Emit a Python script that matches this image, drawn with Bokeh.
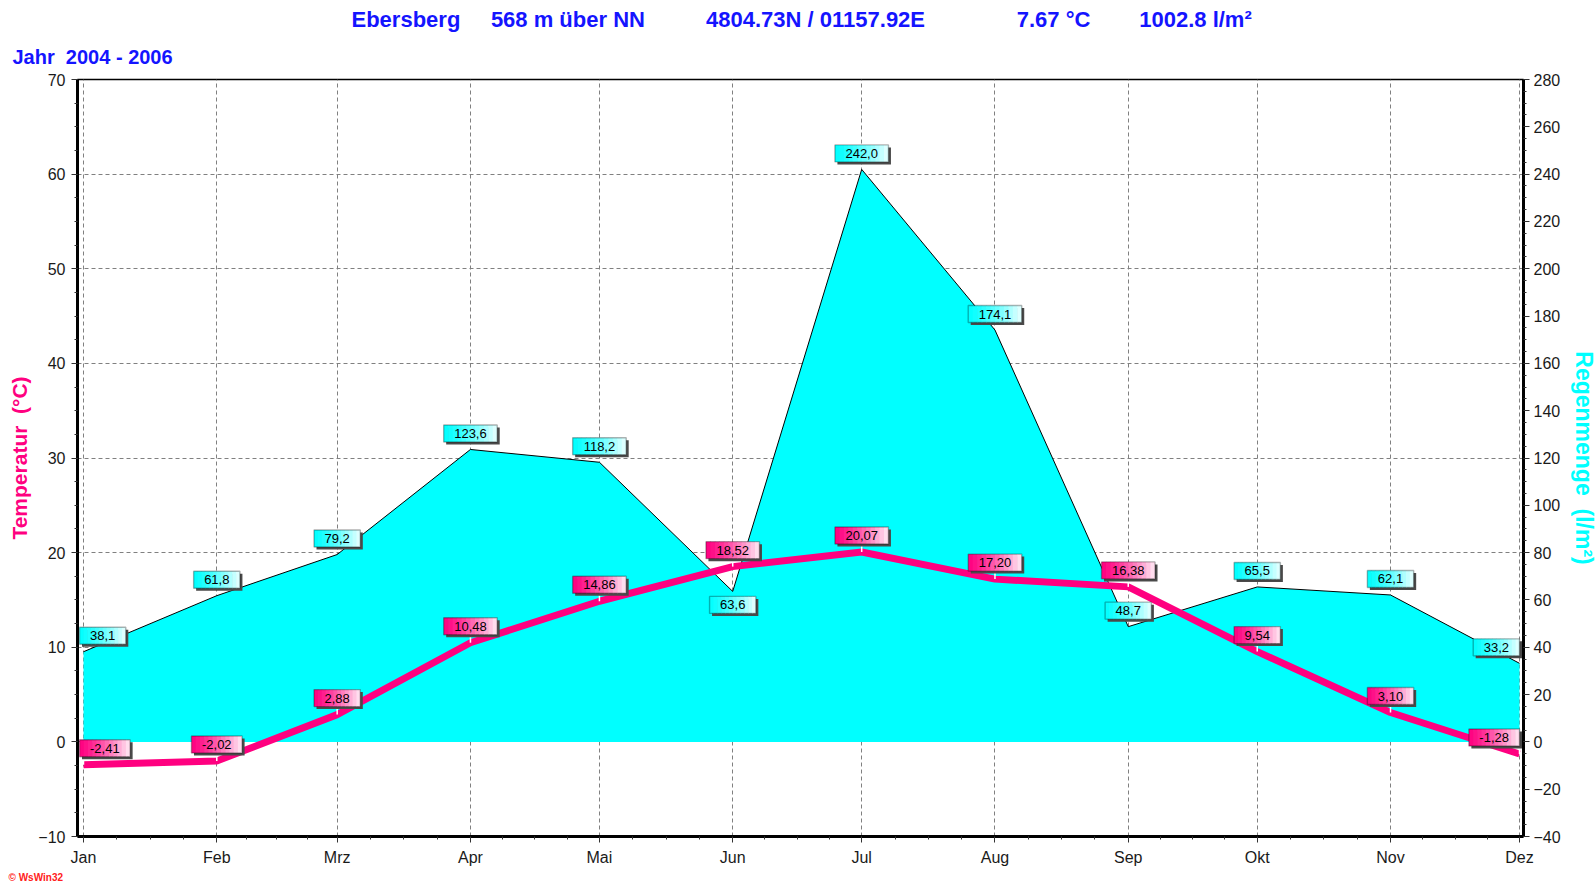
import numpy as np
from bokeh.plotting import figure
from bokeh.models import LinearAxis, Range1d, FixedTicker, Label, BoxAnnotation, Title
from bokeh.embed import file_html
from bokeh.resources import INLINE

# ---------------- data ----------------
months = ["Jan", "Feb", "Mrz", "Apr", "Mai", "Jun", "Jul", "Aug", "Sep", "Okt", "Nov", "Dez"]
month_days = [31, 28, 31, 30, 31, 30, 31, 31, 30, 31, 30, 31]
temperature = [-2.41, -2.02, 2.88, 10.48, 14.86, 18.52, 20.07, 17.20, 16.38, 9.54, 3.10, -1.28]
rain = [38.1, 61.8, 79.2, 123.6, 118.2, 63.6, 242.0, 174.1, 48.7, 65.5, 62.1, 33.2]
title_parts = ["Ebersberg", "568 m über NN", "4804.73N / 01157.92E", "7.67 °C", "1002.8 l/m²"]
title_gaps = [5, 10, 15, 8]          # number of spaces between the title parts
subtitle = "Jahr  2004 - 2006"
temp_title = "Temperatur  (°C)"
rain_title = "Regenmenge  (l/m²)"
watermark = "© WsWin32"
temp_ticks = list(range(-10, 71, 10))
rain_ticks = list(range(-40, 281, 20))

NB = "\u00a0"

def keep_spaces(s):
    return s.replace(" ", NB)

# day of year of the 1st of each month
x_pos = np.concatenate([[0], np.cumsum(month_days[:-1])]).astype(float)
minor_x = []
for i in range(len(months) - 1):
    for k in range(1, 4):
        minor_x.append(x_pos[i] + k * month_days[i] / 4.0)

# ---------------- layout ----------------
FL, FT, FW, FH = 77, 79, 1446, 757        # frame in canvas pixels
CW_TOTAL, CH_TOTAL = 1594, 887
x_start, x_end = -1.3955, 334.93
t_lo, t_hi = -10, 70
r_lo, r_hi = -40, 280
sx = FW / (x_end - x_start)
sy = FH / (t_hi - t_lo)

MAG = "#ff0080"
CYAN = "#00ffff"
BLUE = "#1414ff"
FONT = "Liberation Sans"

p = figure(frame_width=FW, frame_height=FH,
           x_range=Range1d(x_start, x_end), y_range=Range1d(t_lo, t_hi),
           output_backend="svg", toolbar_location=None,
           min_border_left=FL, min_border_top=FT,
           min_border_right=CW_TOTAL - (FL + FW), min_border_bottom=CH_TOTAL - (FT + FH))
p.extra_y_ranges = {"rain": Range1d(r_lo, r_hi)}
p.background_fill_color = "white"
p.border_fill_color = "white"
p.outline_line_color = "black"
p.outline_line_width = 1.5

# titles: main title on top, subtitle nearer to the frame
main = ""
for i, part in enumerate(title_parts):
    main += keep_spaces(part)
    if i < len(title_gaps):
        main += NB * title_gaps[i]
p.title.text = main
p.title.align = "left"
p.title.offset = 351 - FL
p.title.text_font = FONT
p.title.text_font_size = "22px"
p.title.text_font_style = "bold"
p.title.text_color = BLUE
p.title.standoff = 2

p.add_layout(Title(text=keep_spaces(subtitle), align="left", offset=12 - FL, text_font=FONT,
                   text_font_size="20px", text_font_style="bold", text_color=BLUE,
                   standoff=23), "above")

# axes
p.xaxis.ticker = FixedTicker(ticks=list(x_pos), minor_ticks=minor_x)
p.xaxis.major_label_overrides = {int(d): m for d, m in zip(x_pos, months)}
p.yaxis.ticker = FixedTicker(ticks=temp_ticks, minor_ticks=list(np.arange(-10, 70.1, 2.5)))
ra = LinearAxis(y_range_name="rain",
                ticker=FixedTicker(ticks=rain_ticks, minor_ticks=list(np.arange(-40, 281, 5))))
p.add_layout(ra, "right")

for ax in [p.xaxis[0], p.yaxis[0], ra]:
    ax.axis_line_width = 3
    ax.axis_line_color = "black"
    ax.major_tick_in = 0
    ax.minor_tick_in = 0
    ax.major_tick_out = 6
    ax.minor_tick_out = 3
    ax.major_tick_line_color = "#333333"
    ax.minor_tick_line_color = "#333333"
    ax.major_label_text_font = FONT
    ax.major_label_text_font_size = "16px"
    ax.major_label_text_color = "#1a1a1a"
p.xaxis.major_label_standoff = 6
p.yaxis.major_label_standoff = 6
ra.major_label_standoff = 4

p.yaxis.axis_label = keep_spaces(temp_title)
p.yaxis.axis_label_text_font = FONT
p.yaxis.axis_label_text_font_size = "21px"
p.yaxis.axis_label_text_font_style = "bold"
p.yaxis.axis_label_text_color = MAG
p.yaxis.axis_label_standoff = 4

ra.axis_label = keep_spaces(rain_title)
ra.axis_label_text_font = FONT
ra.axis_label_text_font_size = "23px"
ra.axis_label_text_font_style = "bold"
ra.axis_label_text_color = CYAN
ra.axis_label_standoff = 7

# watermark below the x axis
p.add_layout(Title(text=watermark, align="left", offset=8 - FL, text_font=FONT,
                   text_font_size="10px", text_font_style="bold",
                   text_color="#ff2020", standoff=3), "below")

# grid
p.xgrid.ticker = FixedTicker(ticks=list(x_pos))
p.ygrid.ticker = FixedTicker(ticks=temp_ticks)
for g in [p.xgrid[0], p.ygrid[0]]:
    g.grid_line_color = "#808080"
    g.grid_line_dash = "4 3"
    g.grid_line_width = 1

# rain area + outline
p.varea(x=x_pos, y1=0, y2=rain, fill_color=CYAN, fill_alpha=1, y_range_name="rain")
p.line(x_pos, rain, line_color="black", line_width=1, y_range_name="rain")

# temperature line
p.line(x_pos, temperature, line_color=MAG, line_width=7)

# ---------------- value labels ----------------
rain_scale = (t_hi - t_lo) / (r_hi - r_lo)
CWID = {",": 0.278, "-": 0.333, ".": 0.278}

def tw(s, fs=13):
    return sum(CWID.get(c, 0.556) for c in s) * fs

def hexrgb(h):
    h = h.lstrip("#")
    return tuple(int(h[i:i + 2], 16) for i in (0, 2, 4))

def mix(c0, c1, t):
    a, b = hexrgb(c0), hexrgb(c1)
    return "#%02x%02x%02x" % tuple(int(round(a[i] + (b[i] - a[i]) * t)) for i in range(3))

def add_box(xd, yd, off_px, s, c0, c1, leader=False):
    w = tw(s) + 21
    h = 17
    hw = w / 2 / sx
    hh = h / 2 / sy
    # keep the whole box (and its shadow) inside the plotting frame
    cx = min(max(xd, x_start + hw + 2 / sx), x_end - hw - 4 / sx)
    cy = yd - off_px / sy          # off_px: screen offset (positive = down)
    p.add_layout(BoxAnnotation(left=cx - hw + 2.5 / sx, right=cx + hw + 2.5 / sx,
                               bottom=cy - hh - 2.5 / sy, top=cy + hh - 2.5 / sy,
                               fill_color="#4a4a4a", fill_alpha=1, line_color=None,
                               level="overlay"))
    n = 12
    for i in range(n):
        l = cx - hw + i * 2 * hw / n
        r = cx - hw + (i + 1) * 2 * hw / n + 0.6 / sx
        p.add_layout(BoxAnnotation(left=l, right=min(r, cx + hw), bottom=cy - hh, top=cy + hh,
                                   fill_color=mix(c0, c1, ((i + 0.5) / n) ** 1.3), fill_alpha=1,
                                   line_color=None, level="overlay"))
    p.add_layout(BoxAnnotation(left=cx - hw, right=cx + hw, bottom=cy - hh, top=cy + hh,
                               fill_alpha=0, line_color="black", line_width=1.4,
                               level="overlay"))
    p.add_layout(Label(x=cx, y=cy, text=s, text_align="center", text_baseline="middle",
                       text_font=FONT, text_font_size="13px", text_color="black",
                       level="overlay"))
    if leader:
        p.segment(x0=[xd], y0=[yd], x1=[xd], y1=[cy - hh], line_color="white", line_width=1.5)

rain_below = {"Jun"}
for m, xd, r in zip(months, x_pos, rain):
    off = 13.5 if m in rain_below else -16
    add_box(xd, r * rain_scale, off, f"{r:.1f}".replace(".", ","), CYAN, "#eaffff")

for m, xd, t in zip(months, x_pos, temperature):
    add_box(xd, t, -16.5, f"{t:.2f}".replace(".", ","), MAG, "#ffeaf4", leader=True)

open("out.html", "w").write(file_html(p, INLINE))
